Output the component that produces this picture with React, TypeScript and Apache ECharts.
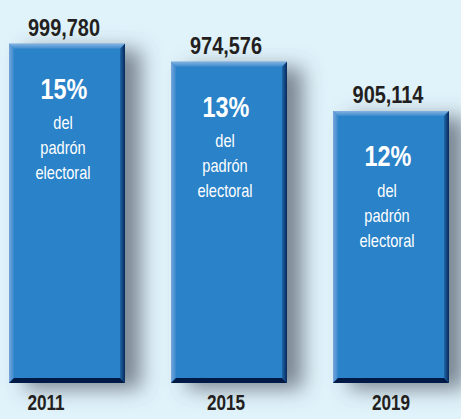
import React, { useEffect, useRef } from "react";
import * as echarts from "echarts";

const years = ["2011", "2015", "2019"];
const voters = [999780, 974576, 905114];
const shares = [15, 13, 12];
const shareCaption = ["del", "padrón", "electoral"];

const AXIS_MIN = 522000;
const AXIS_MAX = 1047400;
const FONT = '"Liberation Sans", Arial, sans-serif';

export default function App() {
  const ref = useRef<HTMLDivElement>(null);
  useEffect(() => {
    document.body.style.margin = "0";
    document.body.style.overflow = "hidden";
    if (!ref.current) return;
    const chart = echarts.init(ref.current, null, { renderer: "svg" });
    const narrowText = (
      text: string,
      x: number,
      y: number,
      size: number,
      color: string,
      bold: boolean,
      vAlign: string,
      sx: number
    ) => ({
      type: "text",
      x,
      y,
      scaleX: sx,
      style: {
        text,
        x: 0,
        y: 0,
        align: "center",
        verticalAlign: vAlign,
        fill: color,
        fontSize: size,
        fontWeight: bold ? "bold" : "normal",
        fontFamily: FONT,
      },
    });
    const renderItem = (params: any, api: any) => {
      const idx = api.value(0);
      const val = api.value(1);
      const share = api.value(2);
      const cs = params.coordSys;
      const topPt = api.coord([idx, val]);
      const bottom = cs.y + cs.height;
      const band = api.size([1, 0])[0];
      const w = band * 0.716;
      const x = topPt[0] - w / 2;
      const top = topPt[1];
      const h = bottom - top;
      const e = 5;
      const cx = topPt[0];
      const yearShift = idx === 0 ? -21 : idx === 1 ? -3 : 0;
      const children: any[] = [
        {
          type: "rect",
          shape: { x, y: top, width: w, height: h },
          style: {
            fill: "#2a82c8",
            shadowColor: "rgba(80,90,105,0.7)",
            shadowBlur: 20,
            shadowOffsetX: 16,
            shadowOffsetY: 6,
          },
        },
        {
          type: "polygon",
          shape: { points: [[x, top], [x + w, top], [x + w - e, top + e], [x + e, top + e]] },
          style: {
            fill: new echarts.graphic.LinearGradient(0, 0, 0, 1, [
              { offset: 0, color: "#86b2e0" },
              { offset: 1, color: "#3a8bce" },
            ]),
          },
        },
        {
          type: "polygon",
          shape: { points: [[x, top], [x + e, top + e], [x + e, bottom - e], [x, bottom]] },
          style: {
            fill: new echarts.graphic.LinearGradient(0, 0, 1, 0, [
              { offset: 0, color: "#78a6dc" },
              { offset: 1, color: "#3688cc" },
            ]),
          },
        },
        {
          type: "polygon",
          shape: { points: [[x + w, top], [x + w, bottom], [x + w - e, bottom - e], [x + w - e, top + e]] },
          style: {
            fill: new echarts.graphic.LinearGradient(0, 0, 1, 0, [
              { offset: 0, color: "#1f66a8" },
              { offset: 1, color: "#06295a" },
            ]),
          },
        },
        {
          type: "polygon",
          shape: { points: [[x, bottom], [x + e, bottom - e], [x + w - e, bottom - e], [x + w, bottom]] },
          style: { fill: "#011a45" },
        },
        narrowText(voters[idx].toLocaleString("en-US"), cx - 3, top - 4, 24, "#231f20", true, "bottom", 0.83),
        narrowText(share + "%", cx - 3, top + 30, 30, "#ffffff", true, "top", 0.78),
        narrowText(years[idx], cx + yearShift, bottom + 19, 22, "#231f20", true, "middle", 0.78),
      ];
      shareCaption.forEach((line, i) => {
        children.push(narrowText(line, cx - 4, top + 70 + i * 25, 18, "#ffffff", false, "top", 0.81));
      });
      return { type: "group", children };
    };
    chart.setOption({
      animation: false,
      backgroundColor: "#e0f2fa",
      grid: { left: 0, right: 0, top: 10, bottom: 36 },
      xAxis: {
        type: "category",
        data: years,
        axisLine: { show: false },
        axisTick: { show: false },
        axisLabel: { show: false },
      },
      yAxis: {
        type: "value",
        min: AXIS_MIN,
        max: AXIS_MAX,
        show: false,
        splitLine: { show: false },
      },
      series: [
        {
          type: "custom",
          renderItem,
          encode: { x: 0, y: 1 },
          data: voters.map((v, i) => [i, v, shares[i]]),
        },
      ],
    });
    return () => chart.dispose();
  }, []);
  return (
    <div
      ref={ref}
      style={{ position: "absolute", left: -14, top: 0, width: 486, height: 419 }}
    />
  );
}
